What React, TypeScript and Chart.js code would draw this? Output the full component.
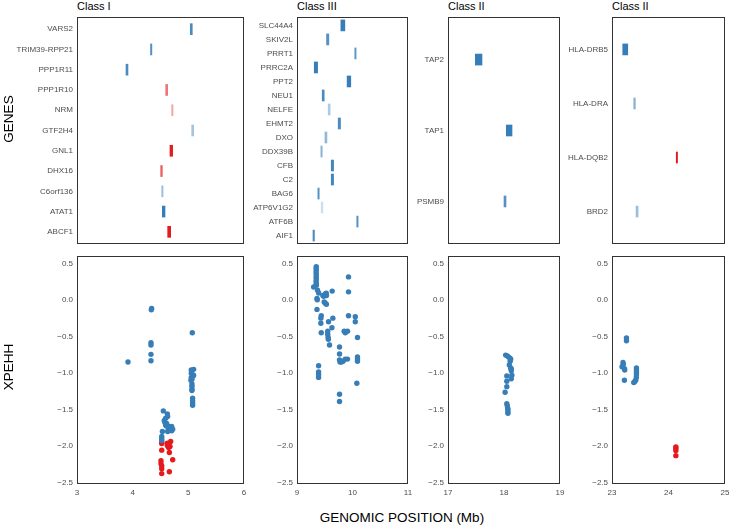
import React, { useEffect, useRef } from "react";
import { Chart, registerables } from "chart.js";

Chart.register(...registerables);

const FONT = "'Liberation Sans', Arial, Helvetica, sans-serif";
const TICK_COLOR = "#4d4d4d";
const BLUE_RGB = "55,126,184";
const RED_RGB = "228,26,28";

// ---------- Gene tracks (Mb), listed top to bottom ----------
// signal > 0 : blue track, signal < 0 : red track; magnitude sets the shade
const classIGenes = ["VARS2", "TRIM39-RPP21", "PPP1R11", "PPP1R10", "NRM", "GTF2H4", "GNL1", "DHX16", "C6orf136", "ATAT1", "ABCF1"];
const classIStart = [5.035, 4.320, 3.880, 4.593, 4.701, 5.060, 4.670, 4.503, 4.522, 4.533, 4.629];
const classIEnd = [5.071, 4.345, 3.916, 4.629, 4.725, 5.096, 4.718, 4.533, 4.545, 4.581, 4.683];
const classISignal = [0.9, 0.85, 0.9, -0.6, -0.4, 0.45, -1, -0.7, 0.5, 1, -1];

const classIIIGenes = ["SLC44A4", "SKIV2L", "PRRT1", "PRRC2A", "PPT2", "NEU1", "NELFE", "EHMT2", "DXO", "DDX39B", "CFB", "C2", "BAG6", "ATP6V1G2", "ATF6B", "AIF1"];
const classIIIStart = [9.790, 9.532, 10.041, 9.311, 9.903, 9.454, 9.562, 9.742, 9.503, 9.430, 9.617, 9.617, 9.376, 9.436, 10.077, 9.288];
const classIIIEnd = [9.862, 9.574, 10.065, 9.371, 9.969, 9.490, 9.598, 9.784, 9.539, 9.454, 9.659, 9.659, 9.400, 9.466, 10.101, 9.314];
const classIIISignal = [1, 0.85, 0.8, 1, 1, 0.9, 0.4, 0.9, 0.55, 0.6, 0.95, 0.95, 0.85, 0.25, 0.85, 0.9];

const classIIaGenes = ["TAP2", "TAP1", "PSMB9"];
const classIIaStart = [17.488, 18.041, 18.000];
const classIIaEnd = [17.607, 18.143, 18.036];
const classIIaSignal = [1, 1, 0.85];

const classIIbGenes = ["HLA-DRB5", "HLA-DRA", "HLA-DQB2", "BRD2"];
const classIIbStart = [23.190, 23.385, 24.137, 23.426];
const classIIbEnd = [23.279, 23.413, 24.160, 23.462];
const classIIbSignal = [1, 0.6, -1, 0.5];

// ---------- XPEHH per SNP: [position Mb, XPEHH] ----------
const classIBlue: [number, number][] = [
  [4.341, -0.118], [4.335, -0.135], [5.071, -0.45],
  [4.329, -0.586], [4.329, -0.618], [4.329, -0.745], [4.329, -0.832], [3.916, -0.85],
  [5.053, -0.959], [5.095, -0.95], [5.065, -0.968], [5.053, -1.004], [5.083, -1.04], [5.053, -1.06],
  [5.095, -1.03], [5.065, -1.086], [5.047, -1.1], [5.065, -1.15], [5.065, -1.18], [5.065, -1.222],
  [5.065, -1.24], [5.077, -1.345], [5.077, -1.382], [5.077, -1.413], [5.077, -1.441],
  [4.551, -1.518], [4.623, -1.559], [4.628, -1.595], [4.593, -1.618], [4.568, -1.65], [4.58, -1.678],
  [4.593, -1.709], [4.61, -1.69], [4.653, -1.732], [4.701, -1.732], [4.718, -1.768], [4.671, -1.777],
  [4.629, -1.8], [4.534, -1.8], [4.522, -1.868], [4.522, -1.9], [4.522, -1.923], [4.6, -1.72],
  [4.7, -1.79], [4.64, -1.76],
];
const classIRed: [number, number][] = [
  [4.522, -1.95], [4.522, -1.965], [4.623, -1.959], [4.683, -1.937], [4.645, -1.982], [4.671, -2.005],
  [4.623, -1.99], [4.645, -2.02], [4.522, -2.055], [4.659, -2.087], [4.719, -2.186], [4.509, -2.2],
  [4.509, -2.24], [4.522, -2.27], [4.522, -2.31], [4.522, -2.376], [4.659, -2.35],
];
const classIIIBlue: [number, number][] = [
  [9.347, 0.455], [9.345, 0.43], [9.347, 0.4], [9.344, 0.37], [9.347, 0.34], [9.345, 0.31],
  [9.347, 0.28], [9.344, 0.25], [9.347, 0.22], [9.35, 0.2],
  [9.3, 0.177], [9.37, 0.132], [9.39, 0.095], [9.36, 0.02], [9.365, 0.0], [9.36, -0.13],
  [9.467, 0.06], [9.48, 0.05], [9.51, 0.08], [9.527, 0.09], [9.53, 0.06], [9.49, -0.03],
  [9.51, -0.045], [9.53, -0.06], [9.634, 0.12],
  [9.437, -0.218], [9.43, -0.25], [9.43, -0.32], [9.568, -0.3], [9.646, -0.25], [9.629, -0.382],
  [9.437, -0.45], [9.553, -0.43], [9.553, -0.47], [9.56, -0.51], [9.565, -0.54], [9.586, -0.618],
  [9.766, -0.645], [9.766, -0.74], [9.766, -0.82], [9.775, -0.85], [9.8, -0.85], [9.83, -0.84],
  [9.87, -0.81], [9.91, -0.81], [9.85, -0.43], [9.87, -0.45], [9.91, -0.43],
  [9.928, 0.314], [9.928, 0.11], [9.928, -0.218], [10.05, -0.23], [10.05, -0.3],
  [10.09, -0.515], [10.09, -0.78], [10.09, -0.81], [10.09, -0.84], [10.078, -1.14],
  [9.389, -0.9], [9.389, -0.985], [9.389, -1.02], [9.389, -1.06], [9.766, -1.29], [9.766, -1.39],
];
const classIIaBlue: [number, number][] = [
  [18.03, -0.755], [18.06, -0.768], [18.09, -0.786], [18.11, -0.8], [18.12, -0.81], [18.11, -0.84],
  [18.095, -0.89], [18.12, -0.93], [18.13, -0.945], [18.13, -0.97], [18.05, -1.04], [18.14, -1.03],
  [18.13, -1.08], [18.05, -1.113], [18.05, -1.187], [18.02, -1.264], [18.05, -1.42], [18.06, -1.45],
  [18.065, -1.48], [18.07, -1.5], [18.07, -1.53], [18.07, -1.55],
];
const classIIbBlue: [number, number][] = [
  [23.256, -0.52], [23.256, -0.56], [23.195, -0.855], [23.2, -0.883], [23.178, -0.914], [23.22, -0.94],
  [23.225, -0.96], [23.22, -1.1], [23.433, -0.93], [23.433, -0.96], [23.433, -0.99], [23.433, -1.02],
  [23.43, -1.06], [23.42, -1.1], [23.4, -1.12], [23.385, -1.13],
];
const classIIbRed: [number, number][] = [
  [24.13, -2.01], [24.13, -2.03], [24.13, -2.06], [24.13, -2.13],
];

// ---------- axes ----------
const xehhTicks = [0.5, 0.0, -0.5, -1.0, -1.5, -2.0, -2.5];
const xehhMin = -2.518;
const xehhMax = 0.6;
const classIPosTicks = [3, 4, 5, 6];
const classIIIPosTicks = [9, 10, 11];
const classIIaPosTicks = [17, 18, 19];
const classIIbPosTicks = [23, 24, 25];

const panelTitles = ["Class I", "Class III", "Class II", "Class II"];

type Box = { left: number; right: number };
const COLUMNS: Box[] = [
  { left: 77, right: 244 },
  { left: 297, right: 408 },
  { left: 448, right: 560 },
  { left: 612, right: 725 },
];
const AXIS_W = [77, 52, 40, 52];
const TOP_ROW = { top: 17, bottom: 244 };
const BOTTOM_ROW = { top: 256, bottom: 484 };
const PAD = 10;
const X_AXIS_H = 14;

const shade = (s: number) =>
  s >= 0 ? `rgba(${BLUE_RGB},${s})` : `rgba(${RED_RGB},${-s})`;

const frame = {
  id: "panelFrame",
  afterDatasetsDraw(chart: any) {
    const { ctx, chartArea: a } = chart;
    ctx.save();
    ctx.strokeStyle = "#333333";
    ctx.lineWidth = 1;
    ctx.strokeRect(
      Math.round(a.left) + 0.5,
      Math.round(a.top) + 0.5,
      Math.round(a.right - a.left) - 1,
      Math.round(a.bottom - a.top) - 1
    );
    ctx.restore();
  },
};

const tickFont = { family: FONT, size: 8 };
const noGrid = { display: false, drawTicks: false, tickLength: 0 };

function xScale(min: number, max: number, ticks: number[], show: boolean) {
  return {
    type: "linear",
    min,
    max,
    bounds: "data",
    offset: false,
    display: show,
    grid: noGrid,
    border: { display: false },
    ticks: {
      font: tickFont,
      color: TICK_COLOR,
      padding: 4,
      maxRotation: 0,
      autoSkip: false,
      callback: (v: number) => String(v),
    },
    afterBuildTicks: (s: any) => {
      s.ticks = ticks.map((value) => ({ value }));
    },
    afterFit: (s: any) => {
      s.height = show ? X_AXIS_H : 0;
      s.paddingLeft = 0;
      s.paddingRight = 0;
    },
  };
}

function yFit(width: number) {
  return (s: any) => {
    s.width = width;
    s.paddingTop = 0;
    s.paddingBottom = 0;
  };
}

function baseOptions() {
  return {
    animation: false,
    responsive: false,
    maintainAspectRatio: false,
    events: [],
    layout: { padding: PAD },
    plugins: {
      legend: { display: false },
      tooltip: { enabled: false },
      title: { display: false },
    },
  };
}

function geneConfig(
  genes: string[],
  start: number[],
  end: number[],
  signal: number[],
  xMin: number,
  xMax: number,
  xTicks: number[],
  axisW: number
) {
  return {
    type: "bar",
    data: {
      datasets: [
        {
          data: genes.map((_, i) => ({ y: i + 1, x: [start[i], end[i]] })),
          backgroundColor: signal.map(shade),
          borderWidth: 0,
          barThickness: 11,
        },
      ],
    },
    options: {
      ...baseOptions(),
      indexAxis: "y",
      scales: {
        x: xScale(xMin, xMax, xTicks, false),
        y: {
          type: "linear",
          min: 0.4,
          max: genes.length + 0.6,
          reverse: true,
          bounds: "data",
          offset: false,
          grid: noGrid,
          border: { display: false },
          ticks: {
            font: tickFont,
            color: TICK_COLOR,
            padding: 4,
            autoSkip: false,
            callback: (v: number) => genes[Math.round(v) - 1] ?? "",
          },
          afterBuildTicks: (s: any) => {
            s.ticks = genes.map((_, i) => ({ value: i + 1 }));
          },
          afterFit: yFit(axisW),
        },
      },
    },
    plugins: [frame],
  };
}

function pointConfig(
  blue: [number, number][],
  red: [number, number][],
  xMin: number,
  xMax: number,
  xTicks: number[],
  axisW: number
) {
  const pts = (arr: [number, number][]) => arr.map(([x, y]) => ({ x, y }));
  return {
    type: "scatter",
    data: {
      datasets: [
        {
          data: pts(blue),
          backgroundColor: `rgb(${BLUE_RGB})`,
          pointRadius: 2.7,
          pointBorderWidth: 0,
          borderWidth: 0,
        },
        {
          data: pts(red),
          backgroundColor: `rgb(${RED_RGB})`,
          pointRadius: 2.7,
          pointBorderWidth: 0,
          borderWidth: 0,
        },
      ],
    },
    options: {
      ...baseOptions(),
      scales: {
        x: xScale(xMin, xMax, xTicks, true),
        y: {
          type: "linear",
          min: xehhMin,
          max: xehhMax,
          bounds: "data",
          offset: false,
          grid: noGrid,
          border: { display: false },
          ticks: {
            font: tickFont,
            color: TICK_COLOR,
            padding: 4,
            autoSkip: false,
            callback: (v: number) => (v < 0 ? "\u2212" : "") + Math.abs(v).toFixed(1),
          },
          afterBuildTicks: (s: any) => {
            s.ticks = xehhTicks.map((value) => ({ value }));
          },
          afterFit: yFit(axisW),
        },
      },
    },
    plugins: [frame],
  };
}

function Panel({
  col,
  row,
  config,
}: {
  col: number;
  row: "top" | "bottom";
  config: () => any;
}) {
  const ref = useRef<HTMLCanvasElement>(null);
  const box = COLUMNS[col];
  const r = row === "top" ? TOP_ROW : BOTTOM_ROW;
  const axisW = AXIS_W[col];
  const xh = row === "top" ? 0 : X_AXIS_H;
  const w = box.right - box.left + axisW + 2 * PAD;
  const h = r.bottom - r.top + xh + 2 * PAD;

  useEffect(() => {
    const chart = new Chart(ref.current as HTMLCanvasElement, config());
    return () => chart.destroy();
  }, []);

  return (
    <canvas
      ref={ref}
      width={w}
      height={h}
      style={{
        position: "absolute",
        left: box.left - axisW - PAD,
        top: r.top - PAD,
        width: w,
        height: h,
      }}
    />
  );
}

const axisTitle: React.CSSProperties = {
  position: "absolute",
  fontFamily: FONT,
  fontSize: 13.5,
  lineHeight: "16px",
  color: "#000",
  whiteSpace: "nowrap",
};

export default function App() {
  return (
    <div
      style={{
        position: "absolute",
        left: 0,
        top: 0,
        width: 729,
        height: 526,
        overflow: "hidden",
        background: "#ffffff",
      }}
    >
      {panelTitles.map((t, i) => (
        <div
          key={i}
          style={{
            position: "absolute",
            left: COLUMNS[i].left,
            top: 0,
            fontFamily: FONT,
            fontSize: 11,
            lineHeight: "12px",
            color: "#000",
            whiteSpace: "nowrap",
          }}
        >
          {t}
        </div>
      ))}

      <Panel col={0} row="top" config={() => geneConfig(classIGenes, classIStart, classIEnd, classISignal, 3, 6, classIPosTicks, AXIS_W[0])} />
      <Panel col={1} row="top" config={() => geneConfig(classIIIGenes, classIIIStart, classIIIEnd, classIIISignal, 9, 11, classIIIPosTicks, AXIS_W[1])} />
      <Panel col={2} row="top" config={() => geneConfig(classIIaGenes, classIIaStart, classIIaEnd, classIIaSignal, 17, 19, classIIaPosTicks, AXIS_W[2])} />
      <Panel col={3} row="top" config={() => geneConfig(classIIbGenes, classIIbStart, classIIbEnd, classIIbSignal, 23, 25, classIIbPosTicks, AXIS_W[3])} />

      <Panel col={0} row="bottom" config={() => pointConfig(classIBlue, classIRed, 3, 6, classIPosTicks, AXIS_W[0])} />
      <Panel col={1} row="bottom" config={() => pointConfig(classIIIBlue, [], 9, 11, classIIIPosTicks, AXIS_W[1])} />
      <Panel col={2} row="bottom" config={() => pointConfig(classIIaBlue, [], 17, 19, classIIaPosTicks, AXIS_W[2])} />
      <Panel col={3} row="bottom" config={() => pointConfig(classIIbBlue, classIIbRed, 23, 25, classIIbPosTicks, AXIS_W[3])} />

      <div style={{ ...axisTitle, left: 8.5, top: 118.5, transform: "translate(-50%, -50%) rotate(-90deg)" }}>GENES</div>
      <div style={{ ...axisTitle, left: 8.5, top: 367, transform: "translate(-50%, -50%) rotate(-90deg)" }}>XPEHH</div>
      <div style={{ ...axisTitle, left: 402, top: 510, transform: "translateX(-50%)" }}>GENOMIC POSITION (Mb)</div>
    </div>
  );
}
